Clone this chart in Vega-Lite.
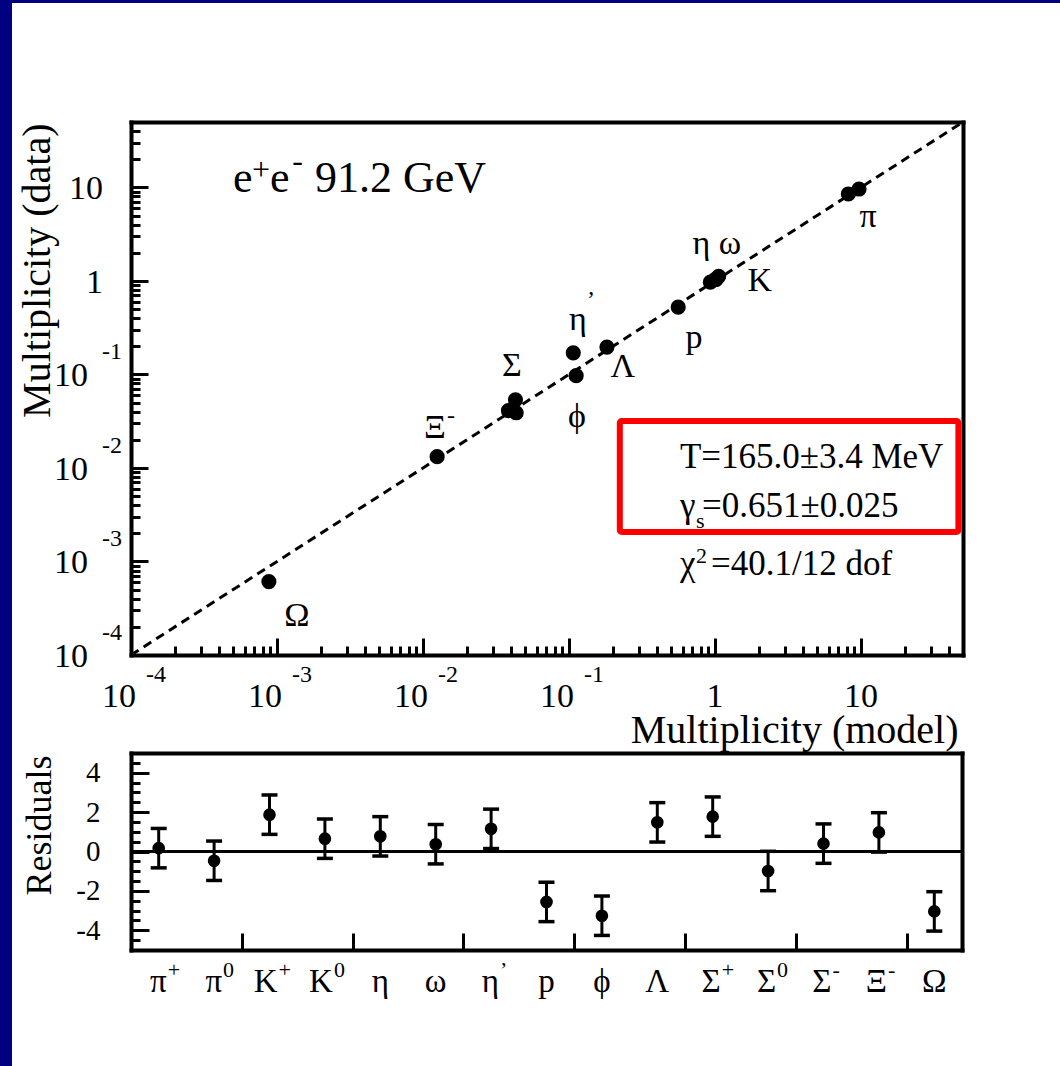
{
  "$schema": "https://vega.github.io/schema/vega-lite/v6.json",
  "width": 1048,
  "height": 1063,
  "autosize": {"type": "none"},
  "padding": {"left": 12, "top": 3, "right": 0, "bottom": 0},
  "background": "#000080",
  "config": {
    "view": {"fill": "white", "stroke": null},
    "font": "Liberation Serif",
    "mark": {"color": "black"},
    "text": {"font": "Liberation Serif", "color": "black"},
    "axis": {
      "grid": false,
      "domainColor": "black",
      "domainWidth": 4,
      "domainCap": "square",
      "tickColor": "black",
      "tickWidth": 3,
      "labelColor": "black",
      "labelFont": "Liberation Serif",
      "titleColor": "black",
      "titleFont": "Liberation Serif",
      "titleFontWeight": "normal"
    }
  },
  "datasets": {
    "mult": [
      {"name": "π+", "model": 8.2, "data": 8.5},
      {"name": "π0", "model": 9.7, "data": 9.6},
      {"name": "K+", "model": 1.06, "data": 1.12},
      {"name": "K0", "model": 1.0, "data": 1.03},
      {"name": "η", "model": 0.93, "data": 0.97},
      {"name": "ω", "model": 1.02, "data": 1.04},
      {"name": "η'", "model": 0.107, "data": 0.17},
      {"name": "p", "model": 0.56, "data": 0.524},
      {"name": "ϕ", "model": 0.112, "data": 0.097},
      {"name": "Λ", "model": 0.182, "data": 0.196},
      {"name": "Σ+", "model": 0.043, "data": 0.0535},
      {"name": "Σ0", "model": 0.0435, "data": 0.0389},
      {"name": "Σ-", "model": 0.0385, "data": 0.041},
      {"name": "Ξ-", "model": 0.0125, "data": 0.0132},
      {"name": "Ω", "model": 0.00088, "data": 0.00061}
    ],
    "resid": [
      {"i": 0, "base": "π", "sup": "+", "r": 0.17, "lo": -0.83, "hi": 1.17},
      {"i": 1, "base": "π", "sup": "0", "r": -0.47, "lo": -1.47, "hi": 0.53},
      {"i": 2, "base": "K", "sup": "+", "r": 1.87, "lo": 0.87, "hi": 2.87},
      {"i": 3, "base": "K", "sup": "0", "r": 0.65, "lo": -0.35, "hi": 1.65},
      {"i": 4, "base": "η", "sup": "", "r": 0.77, "lo": -0.23, "hi": 1.77},
      {"i": 5, "base": "ω", "sup": "", "r": 0.37, "lo": -0.63, "hi": 1.37},
      {"i": 6, "base": "η", "sup": "’", "r": 1.15, "lo": 0.15, "hi": 2.15},
      {"i": 7, "base": "p", "sup": "", "r": -2.56, "lo": -3.56, "hi": -1.56},
      {"i": 8, "base": "ϕ", "sup": "", "r": -3.26, "lo": -4.26, "hi": -2.26},
      {"i": 9, "base": "Λ", "sup": "", "r": 1.48, "lo": 0.48, "hi": 2.48},
      {"i": 10, "base": "Σ", "sup": "+", "r": 1.77, "lo": 0.77, "hi": 2.77},
      {"i": 11, "base": "Σ", "sup": "0", "r": -0.99, "lo": -1.99, "hi": 0.01},
      {"i": 12, "base": "Σ", "sup": "-", "r": 0.4, "lo": -0.6, "hi": 1.4},
      {"i": 13, "base": "Ξ", "sup": "-", "r": 0.97, "lo": -0.03, "hi": 1.97},
      {"i": 14, "base": "Ω", "sup": "", "r": -3.04, "lo": -4.04, "hi": -2.04}
    ],
    "lbl": [
      {"x": 11.2, "y": 4.83, "t": "π"},
      {"x": 1.03, "y": 2.49, "t": "η ω"},
      {"x": 2.03, "y": 1.0, "t": "K"},
      {"x": 0.718, "y": 0.245, "t": "p"},
      {"x": 0.1153, "y": 0.383, "t": "η"},
      {"x": 0.234, "y": 0.12, "t": "Λ"},
      {"x": 0.0407, "y": 0.1233, "t": "Σ"},
      {"x": 0.1135, "y": 0.0351, "t": "ϕ"},
      {"x": 0.01208, "y": 0.0268, "t": "Ξ"},
      {"x": 0.00137, "y": 0.000261, "t": "Ω"}
    ],
    "lblSup": [
      {"x": 0.1416, "y": 0.62, "t": "’"},
      {"x": 0.01556, "y": 0.036, "t": "-"}
    ],
    "hdr": [
      {"x": 0.0005, "y": 8.95, "t": "e"},
      {"x": 0.000895, "y": 8.95, "t": "e"},
      {"x": 0.00182, "y": 8.95, "t": "91.2 GeV"}
    ],
    "hdrSup": [
      {"x": 0.000675, "y": 12.0, "t": "+"},
      {"x": 0.00127, "y": 15.0, "t": "-"}
    ],
    "fit": [
      {"x": 0.575, "y": 0.01, "t": "T=165.0±3.4 MeV"},
      {"x": 0.575, "y": 0.003, "t": "γ"},
      {"x": 0.815, "y": 0.003, "t": "=0.651±0.025"},
      {"x": 0.575, "y": 0.000718, "t": "χ"},
      {"x": 0.94, "y": 0.000718, "t": "=40.1/12 dof"}
    ],
    "fitScript": [
      {"x": 0.741, "y": 0.00228, "t": "s"},
      {"x": 0.741, "y": 0.000964, "t": "2"}
    ],
    "powTicks": [
      {"v": 0.0001, "b": "10", "e": "-4"},
      {"v": 0.001, "b": "10", "e": "-3"},
      {"v": 0.01, "b": "10", "e": "-2"},
      {"v": 0.1, "b": "10", "e": "-1"}
    ],
    "plainTicks": [
      {"v": 1, "t": "1"},
      {"v": 10, "t": "10"}
    ]
  },
  "layer": [
    {
      "layer": [
        {
          "data": {"values": [{"m": 0.0001, "d": 0.0001}, {"m": 50, "d": 50}]},
          "mark": {"type": "line", "stroke": "black", "strokeWidth": 3, "strokeDash": [9, 6]},
          "encoding": {
            "x": {"field": "m", "type": "quantitative",
              "scale": {"type": "log", "domain": [0.0001, 50], "range": [119, 951], "nice": false},
              "axis": {"orient": "bottom", "offset": -411, "values": [0.0001, 0.001, 0.01, 0.1, 1, 10], "tickSize": -17, "labels": false,
                "title": "Multiplicity (model)", "titleFontSize": 40, "titleAngle": 0, "titleAlign": "right", "titleBaseline": "alphabetic", "titleX": 946, "titleY": 87}},
            "y": {"field": "d", "type": "quantitative",
              "scale": {"type": "log", "domain": [0.0001, 50], "range": [652, 119], "nice": false},
              "axis": {"orient": "left", "offset": -119, "values": [0.0001, 0.001, 0.01, 0.1, 1, 10], "tickSize": -17, "labels": false,
                "title": "Multiplicity (data)", "titleFontSize": 40, "titleAngle": -90, "titleAlign": "right", "titleBaseline": "alphabetic", "titleX": -82, "titleY": 120}}
          }
        },
        {
          "data": {"values": [{"x1": 0.223, "x2": 46.5, "y1": 0.00207, "y2": 0.0318}]},
          "mark": {"type": "rect", "fill": "transparent", "stroke": "#ff0000", "strokeWidth": 6, "cornerRadius": 2},
          "encoding": {
            "x": {"field": "x1", "type": "quantitative",
              "scale": {"type": "log", "domain": [0.0001, 50], "range": [119, 951], "nice": false},
              "axis": {"orient": "bottom", "offset": -411, "domain": false, "labels": false, "title": null, "tickSize": -9,
                "values": [0.0002, 0.0003, 0.0004, 0.0005, 0.0006, 0.0007, 0.0008, 0.0009, 0.002, 0.003, 0.004, 0.005, 0.006, 0.007, 0.008, 0.009, 0.02, 0.03, 0.04, 0.05, 0.06, 0.07, 0.08, 0.09, 0.2, 0.3, 0.4, 0.5, 0.6, 0.7, 0.8, 0.9, 2, 3, 4, 5, 6, 7, 8, 9, 20, 30, 40]}},
            "x2": {"field": "x2"},
            "y": {"field": "y1", "type": "quantitative",
              "scale": {"type": "log", "domain": [0.0001, 50], "range": [652, 119], "nice": false},
              "axis": {"orient": "left", "offset": -119, "domain": false, "labels": false, "title": null, "tickSize": -9,
                "values": [0.0002, 0.0003, 0.0004, 0.0005, 0.0006, 0.0007, 0.0008, 0.0009, 0.002, 0.003, 0.004, 0.005, 0.006, 0.007, 0.008, 0.009, 0.02, 0.03, 0.04, 0.05, 0.06, 0.07, 0.08, 0.09, 0.2, 0.3, 0.4, 0.5, 0.6, 0.7, 0.8, 0.9, 2, 3, 4, 5, 6, 7, 8, 9, 20, 30, 40]}},
            "y2": {"field": "y2"}
          }
        },
        {
          "data": {"name": "mult"},
          "mark": {"type": "circle", "size": 230, "color": "black", "opacity": 1},
          "encoding": {
            "x": {"field": "model", "type": "quantitative",
              "scale": {"type": "log", "domain": [0.0001, 50], "range": [119, 951], "nice": false},
              "axis": {"orient": "top", "offset": -119, "ticks": false, "labels": false, "title": null}},
            "y": {"field": "data", "type": "quantitative",
              "scale": {"type": "log", "domain": [0.0001, 50], "range": [652, 119], "nice": false},
              "axis": {"orient": "right", "offset": -97, "ticks": false, "labels": false, "title": null}}
          }
        },
        {
          "data": {"name": "lbl"},
          "mark": {"type": "text", "fontSize": 34, "align": "center", "baseline": "middle"},
          "encoding": {
            "x": {"field": "x", "type": "quantitative", "scale": {"type": "log", "domain": [0.0001, 50], "range": [119, 951], "nice": false}, "axis": null},
            "y": {"field": "y", "type": "quantitative", "scale": {"type": "log", "domain": [0.0001, 50], "range": [652, 119], "nice": false}, "axis": null},
            "text": {"field": "t"}
          }
        },
        {
          "data": {"name": "lblSup"},
          "mark": {"type": "text", "fontSize": 24, "align": "center", "baseline": "middle"},
          "encoding": {
            "x": {"field": "x", "type": "quantitative", "scale": {"type": "log", "domain": [0.0001, 50], "range": [119, 951], "nice": false}, "axis": null},
            "y": {"field": "y", "type": "quantitative", "scale": {"type": "log", "domain": [0.0001, 50], "range": [652, 119], "nice": false}, "axis": null},
            "text": {"field": "t"}
          }
        },
        {
          "data": {"name": "hdr"},
          "mark": {"type": "text", "fontSize": 44, "align": "left", "baseline": "alphabetic"},
          "encoding": {
            "x": {"field": "x", "type": "quantitative", "scale": {"type": "log", "domain": [0.0001, 50], "range": [119, 951], "nice": false}, "axis": null},
            "y": {"field": "y", "type": "quantitative", "scale": {"type": "log", "domain": [0.0001, 50], "range": [652, 119], "nice": false}, "axis": null},
            "text": {"field": "t"}
          }
        },
        {
          "data": {"name": "hdrSup"},
          "mark": {"type": "text", "fontSize": 32, "align": "left", "baseline": "alphabetic"},
          "encoding": {
            "x": {"field": "x", "type": "quantitative", "scale": {"type": "log", "domain": [0.0001, 50], "range": [119, 951], "nice": false}, "axis": null},
            "y": {"field": "y", "type": "quantitative", "scale": {"type": "log", "domain": [0.0001, 50], "range": [652, 119], "nice": false}, "axis": null},
            "text": {"field": "t"}
          }
        },
        {
          "data": {"name": "fit"},
          "mark": {"type": "text", "fontSize": 35, "align": "left", "baseline": "alphabetic"},
          "encoding": {
            "x": {"field": "x", "type": "quantitative", "scale": {"type": "log", "domain": [0.0001, 50], "range": [119, 951], "nice": false}, "axis": null},
            "y": {"field": "y", "type": "quantitative", "scale": {"type": "log", "domain": [0.0001, 50], "range": [652, 119], "nice": false}, "axis": null},
            "text": {"field": "t"}
          }
        },
        {
          "data": {"name": "fitScript"},
          "mark": {"type": "text", "fontSize": 22, "align": "left", "baseline": "alphabetic"},
          "encoding": {
            "x": {"field": "x", "type": "quantitative", "scale": {"type": "log", "domain": [0.0001, 50], "range": [119, 951], "nice": false}, "axis": null},
            "y": {"field": "y", "type": "quantitative", "scale": {"type": "log", "domain": [0.0001, 50], "range": [652, 119], "nice": false}, "axis": null},
            "text": {"field": "t"}
          }
        },
        {
          "data": {"name": "powTicks"},
          "mark": {"type": "text", "fontSize": 34, "align": "right", "baseline": "alphabetic", "dx": 5, "dy": 52},
          "encoding": {
            "x": {"field": "v", "type": "quantitative", "scale": {"type": "log", "domain": [0.0001, 50], "range": [119, 951], "nice": false}, "axis": null},
            "y": {"datum": 0.0001, "type": "quantitative", "scale": {"type": "log", "domain": [0.0001, 50], "range": [652, 119], "nice": false}, "axis": null},
            "text": {"field": "b"}
          }
        },
        {
          "data": {"name": "powTicks"},
          "mark": {"type": "text", "fontSize": 24, "align": "left", "baseline": "alphabetic", "dx": 15, "dy": 27},
          "encoding": {
            "x": {"field": "v", "type": "quantitative", "scale": {"type": "log", "domain": [0.0001, 50], "range": [119, 951], "nice": false}, "axis": null},
            "y": {"datum": 0.0001, "type": "quantitative", "scale": {"type": "log", "domain": [0.0001, 50], "range": [652, 119], "nice": false}, "axis": null},
            "text": {"field": "e"}
          }
        },
        {
          "data": {"name": "plainTicks"},
          "mark": {"type": "text", "fontSize": 34, "align": "center", "baseline": "alphabetic", "dy": 52},
          "encoding": {
            "x": {"field": "v", "type": "quantitative", "scale": {"type": "log", "domain": [0.0001, 50], "range": [119, 951], "nice": false}, "axis": null},
            "y": {"datum": 0.0001, "type": "quantitative", "scale": {"type": "log", "domain": [0.0001, 50], "range": [652, 119], "nice": false}, "axis": null},
            "text": {"field": "t"}
          }
        },
        {
          "data": {"name": "powTicks"},
          "mark": {"type": "text", "fontSize": 34, "align": "right", "baseline": "alphabetic", "dx": -43, "dy": 12},
          "encoding": {
            "x": {"datum": 0.0001, "type": "quantitative", "scale": {"type": "log", "domain": [0.0001, 50], "range": [119, 951], "nice": false}, "axis": null},
            "y": {"field": "v", "type": "quantitative", "scale": {"type": "log", "domain": [0.0001, 50], "range": [652, 119], "nice": false}, "axis": null},
            "text": {"field": "b"}
          }
        },
        {
          "data": {"name": "powTicks"},
          "mark": {"type": "text", "fontSize": 24, "align": "left", "baseline": "alphabetic", "dx": -29, "dy": -15},
          "encoding": {
            "x": {"datum": 0.0001, "type": "quantitative", "scale": {"type": "log", "domain": [0.0001, 50], "range": [119, 951], "nice": false}, "axis": null},
            "y": {"field": "v", "type": "quantitative", "scale": {"type": "log", "domain": [0.0001, 50], "range": [652, 119], "nice": false}, "axis": null},
            "text": {"field": "e"}
          }
        },
        {
          "data": {"name": "plainTicks"},
          "mark": {"type": "text", "fontSize": 34, "align": "right", "baseline": "alphabetic", "dx": -28, "dy": 12},
          "encoding": {
            "x": {"datum": 0.0001, "type": "quantitative", "scale": {"type": "log", "domain": [0.0001, 50], "range": [119, 951], "nice": false}, "axis": null},
            "y": {"field": "v", "type": "quantitative", "scale": {"type": "log", "domain": [0.0001, 50], "range": [652, 119], "nice": false}, "axis": null},
            "text": {"field": "t"}
          }
        }
      ],
      "resolve": {"axis": {"x": "independent", "y": "independent"}}
    },
    {
      "layer": [
        {
          "data": {"values": [{"a": -0.5, "b": 14.5, "z": 0}]},
          "mark": {"type": "rule", "stroke": "black", "strokeWidth": 3},
          "encoding": {
            "x": {"field": "a", "type": "quantitative",
              "scale": {"type": "linear", "domain": [-0.5, 14.5], "range": [119, 950], "nice": false, "zero": false},
              "axis": {"orient": "bottom", "offset": -116, "values": [1.5, 3.5, 5.5, 7.5, 9.5, 11.5, 13.5], "tickSize": -17, "labels": false, "title": null}},
            "x2": {"field": "b"},
            "y": {"field": "z", "type": "quantitative",
              "scale": {"type": "linear", "domain": [-5, 5], "range": [947, 750], "nice": false, "zero": false},
              "axis": {"orient": "left", "offset": -119, "values": [-4, -2, 0, 2, 4], "tickSize": -18, "labels": false,
                "title": "Residuals", "titleFontSize": 36, "titleAngle": -90, "titleAlign": "right", "titleBaseline": "alphabetic", "titleX": -81, "titleY": 752}}
          }
        },
        {
          "data": {"name": "resid"},
          "mark": {"type": "rule", "stroke": "black", "strokeWidth": 3},
          "encoding": {
            "x": {"field": "i", "type": "quantitative",
              "scale": {"type": "linear", "domain": [-0.5, 14.5], "range": [119, 950], "nice": false, "zero": false},
              "axis": {"orient": "top", "offset": -750, "ticks": false, "labels": false, "title": null}},
            "y": {"field": "lo", "type": "quantitative",
              "scale": {"type": "linear", "domain": [-5, 5], "range": [947, 750], "nice": false, "zero": false},
              "axis": {"orient": "left", "offset": -119, "domain": false, "labels": false, "title": null, "tickSize": -9,
                "values": [-4.5, -4, -3.5, -3, -2.5, -2, -1.5, -1, -0.5, 0, 0.5, 1, 1.5, 2, 2.5, 3, 3.5, 4, 4.5]}},
            "y2": {"field": "hi"}
          }
        },
        {
          "data": {"name": "resid"},
          "mark": {"type": "tick", "orient": "horizontal", "size": 16, "thickness": 3.5, "color": "black", "opacity": 1},
          "encoding": {
            "x": {"field": "i", "type": "quantitative",
              "scale": {"type": "linear", "domain": [-0.5, 14.5], "range": [119, 950], "nice": false, "zero": false}, "axis": null},
            "y": {"field": "lo", "type": "quantitative",
              "scale": {"type": "linear", "domain": [-5, 5], "range": [947, 750], "nice": false, "zero": false},
              "axis": {"orient": "left", "offset": -119, "values": [-4, -2, 0, 2, 4], "ticks": false, "domain": false, "labels": true,
                "labelPadding": 31, "labelFontSize": 29, "labelOverlap": false, "labelExpr": "'' + datum.value", "title": null}}
          }
        },
        {
          "data": {"name": "resid"},
          "mark": {"type": "tick", "orient": "horizontal", "size": 16, "thickness": 3.5, "color": "black", "opacity": 1},
          "encoding": {
            "x": {"field": "i", "type": "quantitative",
              "scale": {"type": "linear", "domain": [-0.5, 14.5], "range": [119, 950], "nice": false, "zero": false}, "axis": null},
            "y": {"field": "hi", "type": "quantitative",
              "scale": {"type": "linear", "domain": [-5, 5], "range": [947, 750], "nice": false, "zero": false},
              "axis": {"orient": "right", "offset": -98, "ticks": false, "labels": false, "title": null}}
          }
        },
        {
          "data": {"name": "resid"},
          "mark": {"type": "circle", "size": 160, "color": "black", "opacity": 1},
          "encoding": {
            "x": {"field": "i", "type": "quantitative",
              "scale": {"type": "linear", "domain": [-0.5, 14.5], "range": [119, 950], "nice": false, "zero": false}, "axis": null},
            "y": {"field": "r", "type": "quantitative",
              "scale": {"type": "linear", "domain": [-5, 5], "range": [947, 750], "nice": false, "zero": false}, "axis": null}
          }
        },
        {
          "data": {"name": "resid"},
          "transform": [{"filter": "datum.sup != ''"}],
          "mark": {"type": "text", "fontSize": 33, "align": "right", "baseline": "alphabetic", "dx": 8, "dy": 42},
          "encoding": {
            "x": {"field": "i", "type": "quantitative",
              "scale": {"type": "linear", "domain": [-0.5, 14.5], "range": [119, 950], "nice": false, "zero": false}, "axis": null},
            "y": {"datum": -5, "type": "quantitative",
              "scale": {"type": "linear", "domain": [-5, 5], "range": [947, 750], "nice": false, "zero": false}, "axis": null},
            "text": {"field": "base"}
          }
        },
        {
          "data": {"name": "resid"},
          "transform": [{"filter": "datum.sup == ''"}],
          "mark": {"type": "text", "fontSize": 33, "align": "center", "baseline": "alphabetic", "dy": 42},
          "encoding": {
            "x": {"field": "i", "type": "quantitative",
              "scale": {"type": "linear", "domain": [-0.5, 14.5], "range": [119, 950], "nice": false, "zero": false}, "axis": null},
            "y": {"datum": -5, "type": "quantitative",
              "scale": {"type": "linear", "domain": [-5, 5], "range": [947, 750], "nice": false, "zero": false}, "axis": null},
            "text": {"field": "base"}
          }
        },
        {
          "data": {"name": "resid"},
          "transform": [{"filter": "datum.sup != ''"}],
          "mark": {"type": "text", "fontSize": 22, "align": "left", "baseline": "alphabetic", "dx": 9, "dy": 27},
          "encoding": {
            "x": {"field": "i", "type": "quantitative",
              "scale": {"type": "linear", "domain": [-0.5, 14.5], "range": [119, 950], "nice": false, "zero": false}, "axis": null},
            "y": {"datum": -5, "type": "quantitative",
              "scale": {"type": "linear", "domain": [-5, 5], "range": [947, 750], "nice": false, "zero": false}, "axis": null},
            "text": {"field": "sup"}
          }
        }
      ],
      "resolve": {"axis": {"x": "independent", "y": "independent"}}
    }
  ],
  "resolve": {"scale": {"x": "independent", "y": "independent"}}
}
